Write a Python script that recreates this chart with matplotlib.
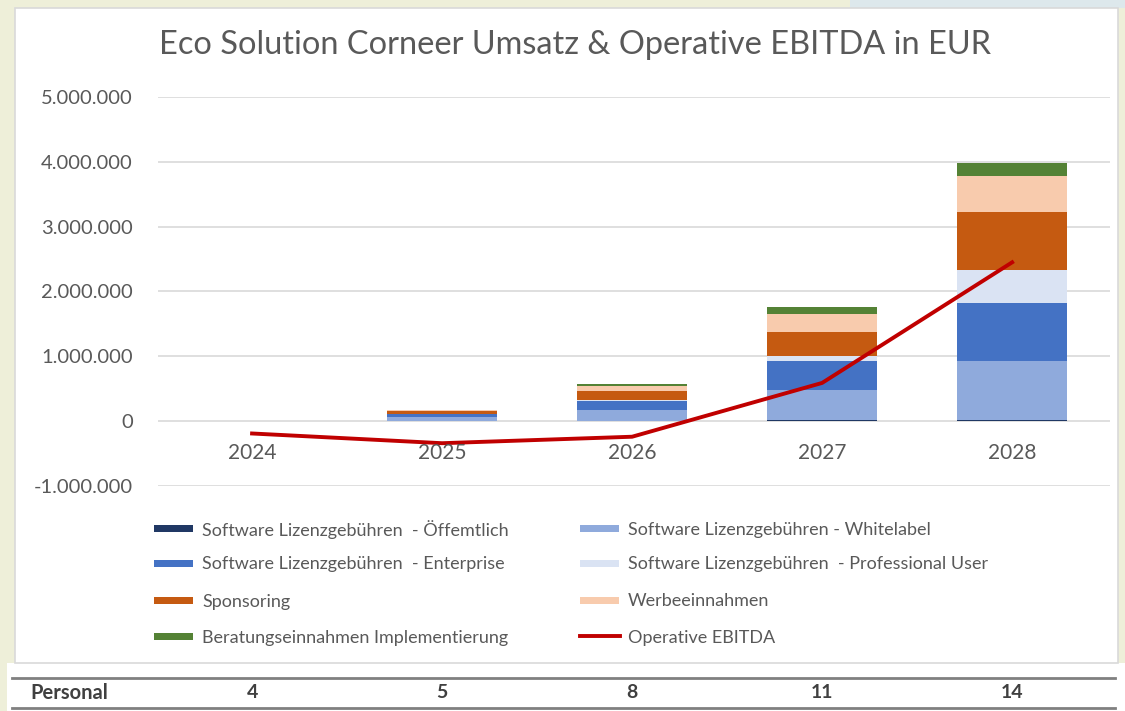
import matplotlib
matplotlib.use("Agg")
import matplotlib.pyplot as plt
import matplotlib.transforms as mtransforms
from matplotlib.patches import Rectangle
from matplotlib.lines import Line2D
from matplotlib.ticker import FuncFormatter
import numpy as np

plt.rcParams['font.family'] = ['Lato', 'DejaVu Sans']

years = ["2024", "2025", "2026", "2027", "2028"]

# revenue streams in EUR
oeffentlich = [0, 0, 5000, 20000, 25000]
whitelabel = [0, 70000, 160000, 460000, 900000]
enterprise = [0, 40000, 140000, 450000, 900000]
professional = [0, 5000, 20000, 70000, 510000]
sponsoring = [0, 40000, 140000, 370000, 890000]
werbung = [10000, 15000, 80000, 280000, 550000]
beratung = [0, 5000, 35000, 110000, 210000]
ebitda = [-190000, -340000, -240000, 590000, 2450000]
personal = [4, 5, 8, 11, 14]

series = [
    ("Software Lizenzgebühren  - Öffemtlich", oeffentlich, "#203864"),
    ("Software Lizenzgebühren - Whitelabel", whitelabel, "#8faadc"),
    ("Software Lizenzgebühren  - Enterprise", enterprise, "#4472c4"),
    ("Software Lizenzgebühren  - Professional User", professional, "#dae3f3"),
    ("Sponsoring", sponsoring, "#c55a11"),
    ("Werbeeinnahmen", werbung, "#f8cbad"),
    ("Beratungseinnahmen Implementierung", beratung, "#548235"),
]
ebitda_label = "Operative EBITDA"
ebitda_col = "#c00000"

text_col = "#595959"
W, H = 1125, 711

fig = plt.figure(figsize=(W / 100, H / 100), dpi=100, facecolor="#eeefd9")

# frame / background pieces
fig.patches.append(Rectangle((850 / W, 1 - 8 / H), 275 / W, 8 / H, transform=fig.transFigure,
                             facecolor="#dde8ec", edgecolor="none", zorder=-10))
fig.patches.append(Rectangle((7 / W, 0), 1, 48 / H, transform=fig.transFigure,
                             facecolor="white", edgecolor="none", zorder=-10))
fig.patches.append(Rectangle((15 / W, 1 - 663 / H), 1103 / W, 655 / H, transform=fig.transFigure,
                             facecolor="white", edgecolor="#d9d9d9", linewidth=1.2, zorder=-10))

ax = fig.add_axes([158 / W, 1 - 486 / H, 952 / W, 389 / H])
ax.set_facecolor("none")

x = np.arange(len(years))
bottom = np.zeros(len(years))
for label, vals, col in series:
    ax.bar(x, vals, width=0.58, bottom=bottom, color=col, zorder=2)
    bottom += np.array(vals)

ax.plot(x, ebitda, color=ebitda_col, linewidth=2.8, zorder=3)

ax.set_xlim(-0.495, 4.515)
ax.set_ylim(-1000000, 5000000)
ax.set_yticks(np.arange(-1000000, 5000001, 1000000))
ax.yaxis.set_major_formatter(FuncFormatter(lambda v, p: f"{int(v):,}".replace(",", ".")))
ax.tick_params(axis="y", length=0, pad=18, labelsize=14.5, labelcolor=text_col)
ax.set_xticks([])
ax.grid(axis="y", color="#d9d9d9", linewidth=1.2, zorder=0)
for s in ax.spines.values():
    s.set_visible(False)

for i, yr in enumerate(years):
    ax.annotate(yr, xy=(i, 0), xytext=(0, -32), textcoords="offset pixels",
                ha="center", va="center", fontsize=15, color=text_col)

fig.text(575 / W, 1 - 45 / H, "Eco Solution Corneer Umsatz & Operative EBITDA in EUR",
         ha="center", va="center", fontsize=23.4, color=text_col)

# legend drawn by hand: two columns, rows aligned
row_y = [528, 563, 600, 636]
col_x = [154, 580]
entries = [(lab, col) for lab, _, col in series] + [(ebitda_label, None)]
order = [0, 1, 2, 3, 4, 5, 6, 7]  # row-wise: left, right
for k in order:
    lab, col = entries[k]
    r, c = divmod(k, 2)
    px, py = col_x[c], row_y[r]
    if col is None:
        fig.add_artist(Line2D([px / W, (px + 40) / W], [1 - py / H, 1 - py / H],
                              color=ebitda_col, linewidth=2.8))
    else:
        fig.patches.append(Rectangle((px / W, 1 - (py + 3.5) / H), 39 / W, 7 / H,
                                     transform=fig.transFigure, facecolor=col,
                                     edgecolor="none"))
    fig.text((px + 48) / W, 1 - py / H, lab, ha="left", va="center_baseline",
             fontsize=13, color=text_col)

# Personal row below the chart
fig.add_artist(Line2D([12 / W, 1115 / W], [1 - 678 / H, 1 - 678 / H], color="#808080", linewidth=2))
fig.add_artist(Line2D([12 / W, 1115 / W], [1 - 708 / H, 1 - 708 / H], color="#808080", linewidth=2))
trans = mtransforms.blended_transform_factory(ax.transData, fig.transFigure)
fig.text(30 / W, 1 - 693 / H, "Personal", ha="left", va="center", fontsize=14.5,
         fontweight="bold", color="#404040")
for i, n in enumerate(personal):
    fig.text(i, 1 - 693 / H, str(n), transform=trans, ha="center", va="center",
             fontsize=14, fontweight="bold", color="#404040")

fig.savefig("out.png", dpi=100, facecolor=fig.get_facecolor())
